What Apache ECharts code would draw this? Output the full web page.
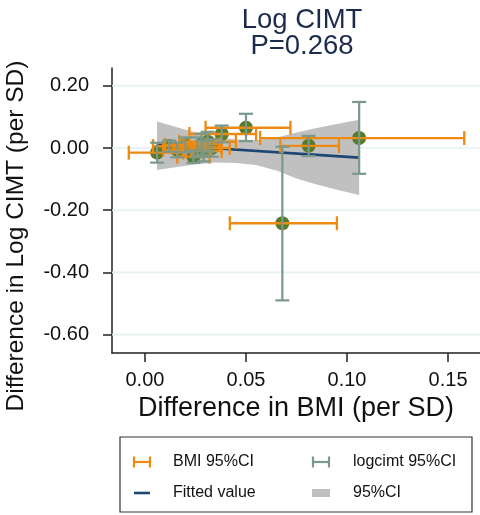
<!DOCTYPE html>
<html><head><meta charset="utf-8">
<script src="https://cdn.jsdelivr.net/npm/echarts@6/dist/echarts.min.js"></script>
<style>html,body{margin:0;padding:0;background:#fff}#c{width:480px;height:515px}</style>
</head><body><div id="c"></div>
<script>
// ---- data ----
const bmi    = [0.006, 0.012, 0.016, 0.020, 0.024, 0.026, 0.028, 0.029, 0.031, 0.033, 0.038, 0.050, 0.068, 0.081, 0.106];
const bmiLo  = [-0.008, 0.004, 0.009, 0.010, 0.016, 0.014, 0.019, 0.020, 0.017, 0.024, 0.022, 0.030, 0.042, 0.067, 0.057];
const bmiHi  = [0.019, 0.020, 0.023, 0.030, 0.032, 0.038, 0.037, 0.038, 0.045, 0.042, 0.055, 0.072, 0.095, 0.096, 0.158];
const cimt   = [-0.015, 0.006, -0.006, 0.010, -0.028, 0.002, 0.012, -0.010, 0.020, 0.000, 0.045, 0.065, -0.242, 0.007, 0.032];
const cimtLo = [-0.047, -0.012, -0.030, -0.014, -0.048, -0.030, -0.022, -0.043, -0.012, -0.028, 0.018, 0.022, -0.490, -0.026, -0.083];
const cimtHi = [0.017, 0.024, 0.018, 0.034, -0.008, 0.034, 0.046, 0.023, 0.052, 0.028, 0.072, 0.110, 0.004, 0.039, 0.148];
const fitX   = [0.006, 0.106];
const fitY   = [0.011, -0.031];
const bandX  = [0.006, 0.015, 0.025, 0.035, 0.045, 0.055, 0.065, 0.075, 0.085, 0.095, 0.106];
const bandLo = [-0.071, -0.062, -0.053, -0.047, -0.048, -0.055, -0.072, -0.098, -0.117, -0.134, -0.151];
const bandHi = [0.085, 0.068, 0.050, 0.035, 0.027, 0.025, 0.033, 0.050, 0.064, 0.077, 0.091];
const xTicks = [0, 0.05, 0.10, 0.15];
const yTicks = [0.20, 0.00, -0.20, -0.40, -0.60];

const FONT = "'Liberation Sans', Arial, Helvetica, sans-serif";
const ORANGE = '#ec8a12', GREENBAR = '#7b998b', DOT = '#587a2c', NAVY = '#1d4674', BAND = '#c0c0c0', GRID = '#e6eff1';

const chart = echarts.init(document.getElementById('c'), null, {renderer: 'canvas'});

function hbar(params, api) {
  const lo = api.coord([api.value(0), api.value(2)]);
  const hi = api.coord([api.value(1), api.value(2)]);
  const h = 7, st = {stroke: ORANGE, lineWidth: 2.3};
  return {type: 'group', children: [
    {type: 'line', shape: {x1: lo[0], y1: lo[1], x2: hi[0], y2: hi[1]}, style: st},
    {type: 'line', shape: {x1: lo[0], y1: lo[1] - h, x2: lo[0], y2: lo[1] + h}, style: st},
    {type: 'line', shape: {x1: hi[0], y1: hi[1] - h, x2: hi[0], y2: hi[1] + h}, style: st}
  ]};
}
function vbar(params, api) {
  const lo = api.coord([api.value(0), api.value(1)]);
  const hi = api.coord([api.value(0), api.value(2)]);
  const w = 7, st = {stroke: GREENBAR, lineWidth: 2.2};
  return {type: 'group', children: [
    {type: 'line', shape: {x1: lo[0], y1: lo[1], x2: hi[0], y2: hi[1]}, style: st},
    {type: 'line', shape: {x1: lo[0] - w, y1: lo[1], x2: lo[0] + w, y2: lo[1]}, style: st},
    {type: 'line', shape: {x1: hi[0] - w, y1: hi[1], x2: hi[0] + w, y2: hi[1]}, style: st}
  ]};
}
function band(params, api) {
  if (params.dataIndex !== 0) return null;
  const pts = [];
  for (let i = 0; i < bandX.length; i++) pts.push(api.coord([bandX[i], bandHi[i]]));
  for (let i = bandX.length - 1; i >= 0; i--) pts.push(api.coord([bandX[i], bandLo[i]]));
  return {type: 'polygon', shape: {points: pts}, style: {fill: BAND}};
}
function grid(params, api) {
  const cs = params.coordSys;
  const y = api.coord([0, api.value(0)])[1];
  return {type: 'line', shape: {x1: cs.x, y1: y, x2: cs.x + cs.width, y2: y}, style: {stroke: GRID, lineWidth: 1.6}};
}

const txt = (x, y, s) => ({type: 'text', z: 11, style: {x: x, y: y, text: s, fontFamily: FONT, fontSize: 16, fill: '#111', verticalAlign: 'middle'}});
const ln = (x1, y1, x2, y2, c, w) => ({type: 'line', z: 11, shape: {x1, y1, x2, y2}, style: {stroke: c, lineWidth: w}});

const option = {
  animation: false,
  backgroundColor: '#fff',
  textStyle: {fontFamily: FONT},
  title: {
    text: 'Log CIMT\nP=0.268', left: 297, top: 2, textAlign: 'center',
    textStyle: {fontFamily: FONT, fontSize: 27.5, lineHeight: 26, fontWeight: 'normal', color: '#1c2b4d'}
  },
  grid: {left: 112, right: 0, top: 68, bottom: 162, containLabel: false, outerBoundsMode: 'none'},
  xAxis: {
    type: 'value', min: -0.0163, max: 0.1658,
    name: 'Difference in BMI (per SD)', nameLocation: 'middle', nameGap: 40,
    nameTextStyle: {fontFamily: FONT, fontSize: 27, color: '#111'},
    axisLine: {show: true, onZero: false, lineStyle: {color: '#222', width: 1.5}},
    axisTick: {show: true, customValues: xTicks, length: 9, lineStyle: {color: '#222', width: 1.5}},
    axisLabel: {customValues: xTicks, margin: 17, fontSize: 20, fontFamily: FONT, color: '#111', formatter: v => v.toFixed(2)},
    splitLine: {show: false}
  },
  yAxis: {
    type: 'value', min: -0.6592, max: 0.2572,
    axisLine: {show: true, onZero: false, lineStyle: {color: '#222', width: 1.5}},
    axisTick: {show: true, customValues: yTicks, length: 9, lineStyle: {color: '#222', width: 1.5}},
    axisLabel: {customValues: yTicks, margin: 23, fontSize: 20, fontFamily: FONT, color: '#111', formatter: v => v.toFixed(2)},
    splitLine: {show: false}
  },
  series: [
    {type: 'custom', renderItem: grid, data: yTicks.map(v => [v]), encode: {y: 0}, silent: true, z: 1},
    {type: 'custom', renderItem: band, data: bandX.map((x, i) => [x, bandLo[i], bandHi[i]]), encode: {x: 0, y: [1, 2]}, silent: true, z: 2},
    {type: 'line', data: fitX.map((x, i) => [x, fitY[i]]), symbol: 'none', lineStyle: {color: NAVY, width: 2.6}, z: 3},
    {type: 'scatter', data: bmi.map((x, i) => [x, cimt[i]]), symbolSize: 14, itemStyle: {color: DOT, opacity: 1}, z: 4},
    {type: 'custom', renderItem: hbar, data: bmi.map((x, i) => [bmiLo[i], bmiHi[i], cimt[i]]), encode: {x: [0, 1], y: 2}, z: 5},
    {type: 'custom', renderItem: vbar, data: bmi.map((x, i) => [x, cimtLo[i], cimtHi[i]]), encode: {x: 0, y: [1, 2]}, z: 6}
  ],
  graphic: [
    {type: 'text', z: 11, x: 16, y: 236, rotation: Math.PI / 2,
      style: {x: 0, y: 0, text: 'Difference in Log CIMT (per SD)', fontFamily: FONT, fontSize: 24.5, fill: '#111', align: 'center', verticalAlign: 'middle'}},
    {type: 'rect', z: 10, shape: {x: 120, y: 437, width: 352, height: 75}, style: {fill: '#fff', stroke: '#333', lineWidth: 1.2}},
    ln(134, 462, 150, 462, ORANGE, 2.2), ln(134, 456.5, 134, 467.5, ORANGE, 2.2), ln(150, 456.5, 150, 467.5, ORANGE, 2.2),
    txt(173, 462, 'BMI 95%CI'),
    ln(313, 462, 329, 462, GREENBAR, 2.2), ln(313, 456.5, 313, 467.5, GREENBAR, 2.2), ln(329, 456.5, 329, 467.5, GREENBAR, 2.2),
    txt(353, 462, 'logcimt 95%CI'),
    ln(134, 493, 150, 493, NAVY, 2.6),
    txt(173, 493, 'Fitted value'),
    {type: 'rect', z: 11, shape: {x: 312, y: 489, width: 18, height: 8}, style: {fill: BAND}},
    txt(353, 493, '95%CI')
  ]
};
chart.setOption(option);
</script></body></html>
